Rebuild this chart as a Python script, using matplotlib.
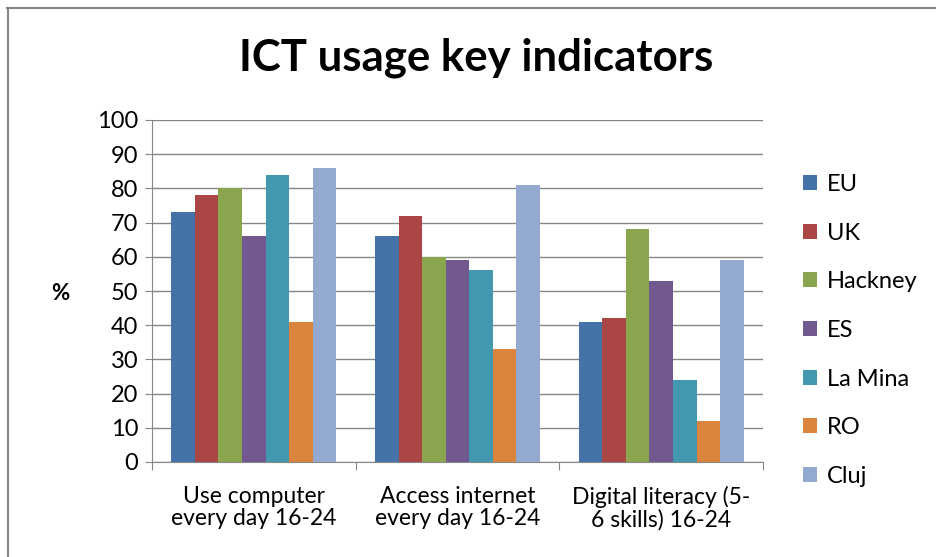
import matplotlib
matplotlib.use("Agg")
import matplotlib.pyplot as plt
import numpy as np
from matplotlib.lines import Line2D
from matplotlib.patches import Patch

categories = ["Use computer\nevery day 16-24", "Access internet\nevery day 16-24", "Digital literacy (5-\n6 skills) 16-24"]
series_names = ["EU", "UK", "Hackney", "ES", "La Mina", "RO", "Cluj"]
eu = [73, 66, 41]
uk = [78, 72, 42]
hackney = [80, 60, 68]
es = [66, 59, 53]
la_mina = [84, 56, 24]
ro = [41, 33, 12]
cluj = [86, 81, 59]
series_values = [eu, uk, hackney, es, la_mina, ro, cluj]
colors = ["#4572A7", "#AA4643", "#89A54E", "#71588F", "#4198AF", "#DB843D", "#93A9CF"]

plt.rcParams['font.family'] = ['Lato', 'DejaVu Sans']

fig = plt.figure(figsize=(9.36, 5.57), dpi=100)
ax = fig.add_axes([152/936, 1-462/557, (763-152)/936, (462-120)/557])

n = len(series_names)
group_w = 0.81
bw = group_w / n
x = np.arange(len(categories)) + 0.5
for i, (name, vals, c) in enumerate(zip(series_names, series_values, colors)):
    ax.bar(x - group_w/2 + bw*(i+0.5), vals, width=bw, color=c, label=name, zorder=3)

ax.set_xlim(0, 3)
ax.set_ylim(0, 100)
ax.set_yticks(np.arange(0, 101, 10))
ax.tick_params(axis='y', labelsize=17, length=5, color='#868686', pad=5)
ax.set_xticks([0, 1, 2, 3])
ax.set_xticklabels([])
ax.set_xticks(x, minor=True)
ax.set_xticklabels(categories, minor=True, fontsize=16.5, linespacing=1.1)
ax.tick_params(axis='x', which='major', length=6, color='#868686', direction='out')
ax.tick_params(axis='x', which='minor', length=0, pad=17)
ax.grid(axis='y', color='#868686', linewidth=1, zorder=0)
for s in ['top', 'right']:
    ax.spines[s].set_visible(False)
for s in ['left', 'bottom']:
    ax.spines[s].set_color('#868686')

fig.text(60/936, 1-294/557, "%", fontsize=16, fontweight='bold', ha='center', va='center')
fig.text(476/936, 1-58/557, "ICT usage key indicators", fontsize=31.5, fontweight='bold', ha='center', va='center')

handles = [Patch(facecolor=c, edgecolor='none') for c in colors]
leg = fig.legend(handles, series_names, loc='upper left', bbox_to_anchor=(803/936, 1-174/557),
                 frameon=False, fontsize=17, labelspacing=1.17, handlelength=0.6, handleheight=0.6,
                 handletextpad=0.4, borderaxespad=0, borderpad=0)

fig.add_artist(Line2D([7/936, 1], [1-8/557, 1-8/557], color='#868686', linewidth=1.5))
fig.add_artist(Line2D([8/936, 8/936], [0, 1-8/557], color='#868686', linewidth=1.5))

fig.savefig("out.png", dpi=100)
